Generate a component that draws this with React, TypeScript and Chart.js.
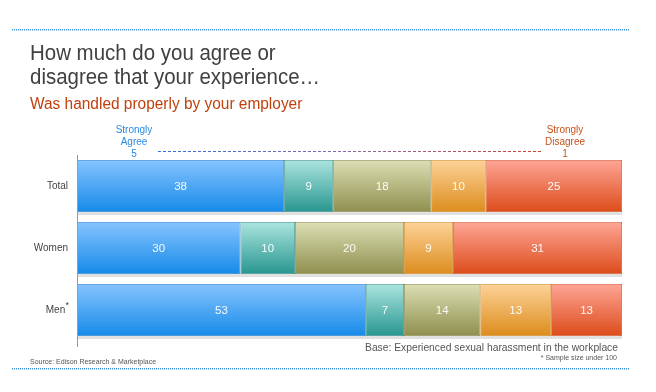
import React, { useEffect, useRef } from "react";
import { Chart, registerables } from "chart.js";

Chart.register(...registerables);

const categories = ["Total", "Women", "Men"];
const seriesNames = ["5 Strongly Agree", "4", "3", "2", "1 Strongly Disagree"];
const agree5 = [38, 30, 53];
const agree4 = [9, 10, 7];
const neutral3 = [18, 20, 14];
const disagree2 = [10, 9, 13];
const disagree1 = [25, 31, 13];

const palettes = [
  { top: "#86c4ff", bottom: "#168ae8", border: "#2a7fcf" },
  { top: "#ace4df", bottom: "#27968f", border: "#3f8f89" },
  { top: "#dcdfb4", bottom: "#8e8f4e", border: "#8a8a52" },
  { top: "#fdd398", bottom: "#dc8c1c", border: "#cf8a2a" },
  { top: "#fea596", bottom: "#dc4c1a", border: "#cf5a32" },
];

const FONT = "'Liberation Sans', Arial, sans-serif";

function scaledText(c: CanvasRenderingContext2D, text: string, x: number, y: number, sx: number) {
  c.save();
  c.translate(x, y);
  c.scale(sx, 1);
  c.fillText(text, 0, 0);
  c.restore();
}

export default function App() {
  const ref = useRef<HTMLCanvasElement | null>(null);

  useEffect(() => {
    document.body.style.margin = "0";
    const canvas = ref.current;
    if (!canvas) return;
    const values = [agree5, agree4, neutral3, disagree2, disagree1];

    const decor = {
      id: "decor",
      beforeDraw(chart: any) {
        const c = chart.ctx;
        c.save();
        // dotted top and bottom rules
        c.fillStyle = "#3a8fd8";
        for (let x = 12; x < 630; x += 2) {
          c.fillRect(x, 29, 1, 1.5);
          c.fillRect(x, 368, 1, 1.5);
        }
        // titles
        c.fillStyle = "#404040";
        c.font = `22px ${FONT}`;
        c.textBaseline = "alphabetic";
        c.textAlign = "left";
        scaledText(c, "How much do you agree or", 30, 60, 0.93);
        scaledText(c, "disagree that your experience…", 30, 84, 0.93);
        c.fillStyle = "#c0400e";
        c.font = `16px ${FONT}`;
        scaledText(c, "Was handled properly by your employer", 30, 109, 0.965);
        // scale annotations
        c.font = `10px ${FONT}`;
        c.textAlign = "center";
        c.fillStyle = "#2a8be0";
        c.fillText("Strongly", 134, 133);
        c.fillText("Agree", 134, 145);
        c.fillText("5", 134, 157);
        c.fillStyle = "#c8521a";
        c.fillText("Strongly", 565, 133);
        c.fillText("Disagree", 565, 145);
        c.fillText("1", 565, 157);
        const g = c.createLinearGradient(158, 0, 543, 0);
        g.addColorStop(0, "#2f6fd8");
        g.addColorStop(0.5, "#8a6aa8");
        g.addColorStop(1, "#d0402a");
        c.strokeStyle = g;
        c.lineWidth = 1;
        c.setLineDash([3, 2]);
        c.beginPath();
        c.moveTo(158, 151.5);
        c.lineTo(543, 151.5);
        c.stroke();
        c.setLineDash([]);
        // footnotes
        c.textAlign = "right";
        c.fillStyle = "#555555";
        c.font = `10.3px ${FONT}`;
        c.fillText("Base: Experienced sexual harassment in the workplace", 618, 351);
        c.font = `7px ${FONT}`;
        c.fillText("* Sample size under 100", 617, 360);
        c.textAlign = "left";
        c.fillText("Source: Edison Research & Marketplace", 30, 364);
        // shadows under bars
        const meta = chart.getDatasetMeta(0);
        c.fillStyle = "rgba(0,0,0,0.12)";
        meta.data.forEach((b: any) => {
          c.fillRect(chart.chartArea.left, b.y + b.height / 2, chart.chartArea.right - chart.chartArea.left, 3);
        });
        c.restore();
      },
      afterDatasetsDraw(chart: any) {
        const c = chart.ctx;
        c.save();
        c.fillStyle = "rgba(255,255,255,0.95)";
        c.font = `11.5px ${FONT}`;
        c.textAlign = "center";
        c.textBaseline = "middle";
        chart.data.datasets.forEach((ds: any, di: number) => {
          chart.getDatasetMeta(di).data.forEach((b: any, i: number) => {
            const cx = (b.x + b.base) / 2;
            c.fillText(String(ds.data[i]), cx, b.y + 1);
          });
        });
        // left axis line
        c.strokeStyle = "#9a9a9a";
        c.lineWidth = 1;
        c.beginPath();
        c.moveTo(77.5, chart.chartArea.top);
        c.lineTo(77.5, chart.chartArea.bottom + 6);
        c.stroke();
        // asterisk for Men
        c.fillStyle = "#444444";
        c.font = `9px ${FONT}`;
        c.textAlign = "left";
        const yMen = chart.scales.y.getPixelForValue(2);
        c.fillText("*", 65.5, yMen - 4);
        c.restore();
      },
    };

    const chart = new Chart(canvas, {
      type: "bar",
      data: {
        labels: categories,
        datasets: values.map((vals, si) => ({
          label: seriesNames[si],
          data: vals,
          borderColor: palettes[si].border,
          borderWidth: 0.8,
          borderSkipped: false,
          barPercentage: 0.84,
          categoryPercentage: 1,
          backgroundColor: (ctx: any) => {
            const ch = ctx.chart;
            if (!ch.chartArea) return palettes[si].bottom;
            const y = ch.scales.y.getPixelForValue(ctx.dataIndex);
            const h = 26;
            const g = ch.ctx.createLinearGradient(0, y - h, 0, y + h);
            g.addColorStop(0, palettes[si].top);
            g.addColorStop(1, palettes[si].bottom);
            return g;
          },
        })),
      },
      options: {
        indexAxis: "y",
        responsive: false,
        animation: false,
        layout: { padding: { top: 155, bottom: 51, left: 0, right: 34 } },
        plugins: { legend: { display: false }, tooltip: { enabled: false } },
        scales: {
          x: { stacked: true, min: 0, max: 100, display: false },
          y: {
            stacked: true,
            grid: { display: false, drawTicks: false },
            border: { display: false },
            afterFit: (s: any) => {
              s.width = 77;
            },
            ticks: {
              color: "#444444",
              font: { family: FONT, size: 10 },
              padding: 9,
              callback: (_v: any, i: number) => (i === 2 ? "Men " : categories[i]),
            },
          },
        },
      },
      plugins: [decor],
    });
    return () => chart.destroy();
  }, []);

  return (
    <div style={{ width: 656, height: 392, background: "#fff" }}>
      <canvas ref={ref} width={656} height={392} style={{ display: "block" }} />
    </div>
  );
}
